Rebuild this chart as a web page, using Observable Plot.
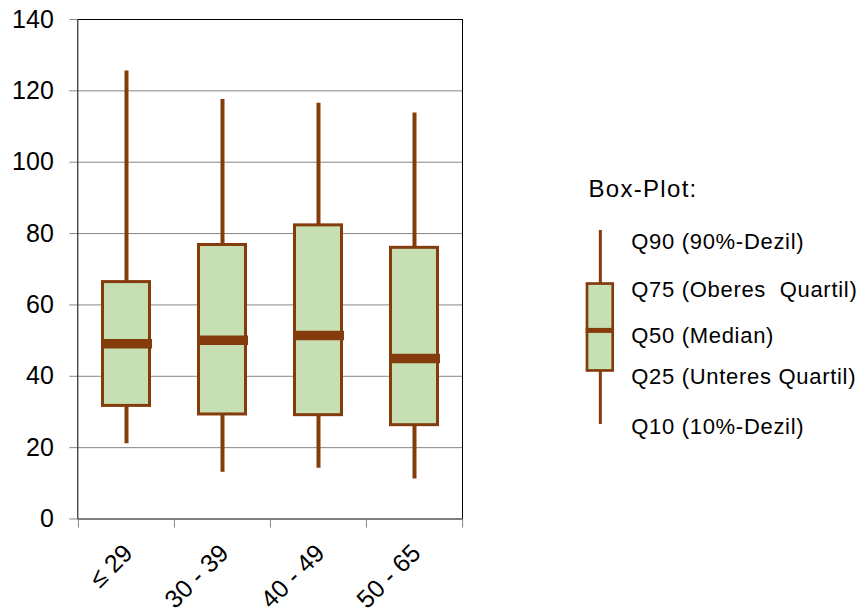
<!DOCTYPE html>
<html><head><meta charset="utf-8">
<script src="https://cdn.jsdelivr.net/npm/d3@7"></script>
<script src="https://cdn.jsdelivr.net/npm/@observablehq/plot@0.6"></script>
<style>
html,body{margin:0;padding:0;background:#fff;}
#chart{position:relative;width:865px;height:613px;overflow:hidden;background:#fff;}
#chart svg{position:absolute;margin:0;overflow:visible;}
#chart svg text{font-family:"Liberation Sans", Arial, Helvetica, sans-serif !important;}
#main text{font-size:25px !important;}
#legend text{letter-spacing:0.7px;}
#legend text.title{letter-spacing:1.3px;}
</style></head><body><div id="chart"></div>
<script>
// ---- data ----
const categories = ["≤ 29", "30 - 39", "40 - 49", "50 - 65"];
const q10 = [21.1, 13.1, 14.2, 11.2];
const q25 = [31.7, 29.3, 29.1, 26.3];
const q50 = [49.1, 50.1, 51.4, 45.0];
const q75 = [66.4, 76.8, 82.3, 76.0];
const q90 = [125.6, 117.6, 116.5, 113.8];
const yTicks = [0, 20, 40, 60, 80, 100, 120, 140];
const gridTicks = [20, 40, 60, 80, 100, 120];

// legend (schematic box)
const legendTitle = "Box-Plot:";
const legendLabels = ["Q90 (90%-Dezil)", "Q75 (Oberes  Quartil)", "Q50 (Median)", "Q25 (Unteres Quartil)", "Q10 (10%-Dezil)"];
const legendLabelLevels = [94.0, 69.1, 45.9, 24.4, -1.4];
const legendQ = [0, 27.6, 48.5, 72.4, 100]; // Q10, Q25, Q50, Q75, Q90 (schematic)
const legendTitleLevel = 121.4;

// ---- styles ----
const brown = "#843C0C", green = "#C6E0B4", grid = "#868686";
const font = "Liberation Sans, Arial, Helvetica, sans-serif";

const rows = categories.map((c, i) => ({cat: c, q10: q10[i], q25: q25[i], q50: q50[i], q75: q75[i], q90: q90[i]}));

const W = 480, ML = 77.3, MR = 18;
const bw = (W - ML - MR) / categories.length;

const main = Plot.plot({
  width: W, height: 613,
  marginLeft: ML, marginRight: MR, marginTop: 19, marginBottom: 94.5,
  style: {fontFamily: font, fontSize: "25px", color: "black", background: "transparent", overflow: "visible"},
  x: {type: "band", domain: categories, padding: 0, axis: null},
  y: {domain: [0, 140], axis: null},
  marks: [
    Plot.ruleY(gridTicks, {stroke: grid, strokeWidth: 1}),
    Plot.ruleX(rows, {x: "cat", y1: "q10", y2: "q90", stroke: brown, strokeWidth: 4}),
    Plot.barY(rows, {x: "cat", y1: "q25", y2: "q75", fill: green, stroke: brown, strokeWidth: 3, insetLeft: 24.5, insetRight: 24.5}),
    Plot.tickY(rows, {x: "cat", y: "q50", stroke: brown, strokeWidth: 9.5, insetLeft: 23, insetRight: 22}),
    Plot.frame({stroke: "black", strokeWidth: 1}),
    Plot.axisY({ticks: yTicks, tickSize: 8, tickPadding: 16, stroke: grid, fill: "black", fontSize: 25}),
    Plot.ruleX(categories, {x: d => d, y1: () => 0, y2: () => 0, insetBottom: -9, dx: -bw / 2, stroke: grid}),
    Plot.ruleX(categories.slice(-1), {x: d => d, y1: () => 0, y2: () => 0, insetBottom: -9, dx: bw / 2, stroke: grid}),
    Plot.text(categories, {x: d => d, y: () => 0, text: d => d, rotate: -45, textAnchor: "end", dx: 2, dy: 30, fontSize: 25, fill: "black"})
  ]
});
main.id = "main";
main.style.left = "0px";
main.style.top = "0px";

const LW = 295, LH = 290;
const legend = Plot.plot({
  width: LW, height: LH,
  marginLeft: 17, marginRight: LW - 42.7, marginTop: 70, marginBottom: LH - 264,
  style: {fontFamily: font, fontSize: "22px", color: "black", background: "transparent", overflow: "visible"},
  x: {domain: [0, 1], axis: null},
  y: {domain: [0, 100], axis: null},
  marks: [
    Plot.ruleX([0.5], {y1: () => legendQ[0], y2: () => legendQ[4], stroke: brown, strokeWidth: 3}),
    Plot.rectY([legendQ], {x1: () => 0, x2: () => 1, y1: d => d[1], y2: d => d[3], fill: green, stroke: brown, strokeWidth: 2.7}),
    Plot.ruleY([legendQ[2]], {x1: () => 0, x2: () => 1, insetLeft: -1.3, insetRight: -1.3, stroke: brown, strokeWidth: 5}),
    Plot.text(legendLabels, {x: () => 1, y: (d, i) => legendLabelLevels[i], text: d => d, textAnchor: "start", dx: 18, fontSize: 22, fill: "black"}),
    Plot.text([legendTitle], {x: () => 0, y: () => legendTitleLevel, text: d => d, textAnchor: "start", dx: 1, fontSize: 24, fill: "black"})
  ]
});
legend.id = "legend";
legend.style.left = "570px";
legend.style.top = "160px";
legend.querySelectorAll("text").forEach(t => { if (t.textContent === legendTitle) t.classList.add("title"); });

const chart = document.getElementById("chart");
chart.appendChild(main);
chart.appendChild(legend);
</script></body></html>
